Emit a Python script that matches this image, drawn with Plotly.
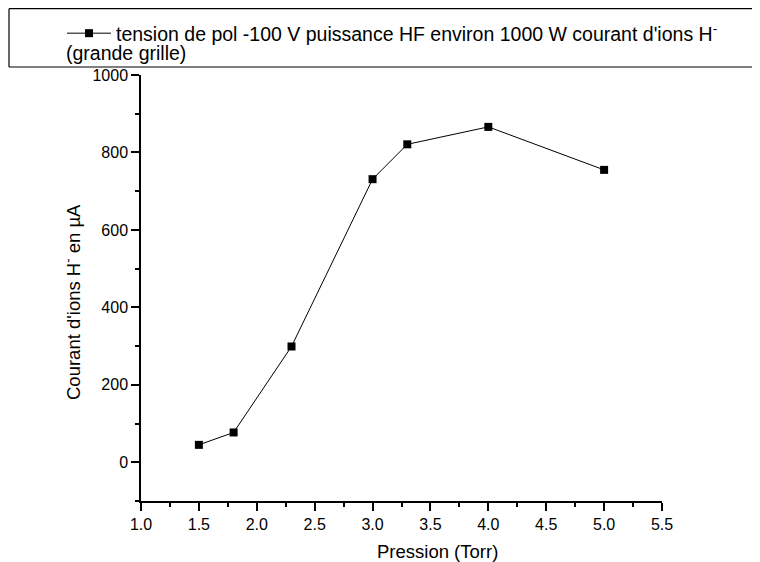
import plotly.graph_objects as go

# data
pression = [1.5, 1.8, 2.3, 3.0, 3.3, 4.0, 5.0]
courant = [45, 77, 299, 731, 821, 866, 755]

serie_nom = "tension de pol -100 V puissance HF environ 1000 W courant d'ions H<sup>-</sup>"
serie_suite = "(grande grille)"

x_ticks = [1.0, 1.5, 2.0, 2.5, 3.0, 3.5, 4.0, 4.5, 5.0, 5.5]
y_ticks = [0, 200, 400, 600, 800, 1000]

font = "Liberation Sans, Arial, sans-serif"

# plot area in window pixels: x 141..662, y 75..501 (page has an 8px body margin)
def px(x):
    return (x - 141) / 521


def py(y):
    return (501 - y) / 426


fig = go.Figure()
fig.add_trace(go.Scatter(
    x=pression, y=courant,
    mode="lines+markers",
    name=serie_nom,
    line=dict(color="black", width=1),
    marker=dict(symbol="square", size=8, color="black"),
))

axis_common = dict(
    showline=True, linecolor="black", linewidth=1.5,
    ticks="outside", ticklen=8, tickwidth=1.5, tickcolor="black",
    showgrid=False, zeroline=False, mirror=False,
    tickfont=dict(family=font, size=16, color="black"),
)

fig.update_xaxes(
    range=[1.0, 5.5], tickvals=x_ticks, tickformat=".1f",
    minor=dict(dtick=0.25, tick0=1.0, ticklen=4, tickwidth=1.5, tickcolor="black", ticks="outside"),
    **axis_common,
)
fig.update_yaxes(
    range=[-100, 1000], tickvals=y_ticks,
    minor=dict(dtick=100, tick0=0, ticklen=4, tickwidth=1.5, tickcolor="black", ticks="outside"),
    **axis_common,
)

# legend frame: left, top and bottom sides only, it runs off the right edge
frame = dict(type="line", xref="paper", yref="paper", line=dict(color="black", width=1.2))
fig.add_shape(x0=px(9), x1=px(9), y0=py(67), y1=py(8.7), **frame)
fig.add_shape(x0=px(9), x1=1.5, y0=py(8.7), y1=py(8.7), **frame)
fig.add_shape(x0=px(9), x1=1.5, y0=py(67), y1=py(67), **frame)

fig.add_annotation(text=serie_suite, xref="paper", yref="paper",
                   x=px(64), y=py(53),
                   xanchor="left", yanchor="middle", showarrow=False,
                   font=dict(family=font, size=19.5, color="black"))

# axis titles
fig.add_annotation(text="Pression (Torr)", xref="paper", yref="paper",
                   x=px(437), y=py(551),
                   xanchor="center", yanchor="middle", showarrow=False,
                   font=dict(family=font, size=18.5, color="black"))
fig.add_annotation(text="Courant d'ions H<sup>-</sup> en µA", xref="paper", yref="paper",
                   x=px(72), y=py(302), textangle=-90,
                   xanchor="center", yanchor="middle", showarrow=False,
                   font=dict(family=font, size=18.5, color="black"))

fig.update_layout(
    width=752, height=554,
    margin=dict(l=133, r=98, t=67, b=61, autoexpand=False),
    plot_bgcolor="white", paper_bgcolor="white",
    showlegend=True,
    legend=dict(x=px(62), y=py(14), xanchor="left", yanchor="top",
                itemwidth=44,
                bgcolor="rgba(0,0,0,0)", borderwidth=0,
                font=dict(family=font, size=19.5, color="black")),
)

fig.write_html("out.html")
